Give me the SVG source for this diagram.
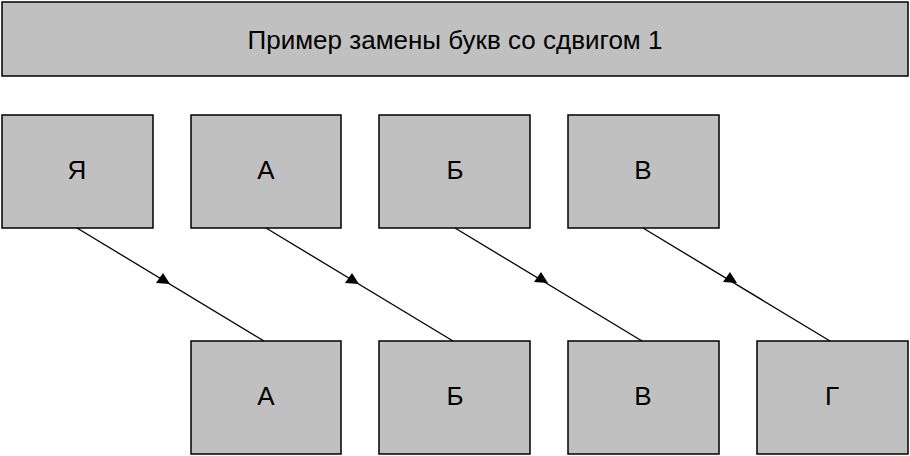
<svg xmlns="http://www.w3.org/2000/svg" width="910" height="456" viewBox="0 0 910 456">
<style>
.b{fill:#c0c0c0;stroke:#000;stroke-width:1.5}
text{font-family:"Liberation Sans",Arial,sans-serif;font-size:26px;fill:#000;text-anchor:middle;dominant-baseline:central}
.c line{stroke:#000;stroke-width:1.3}
</style>
<rect width="910" height="456" fill="#fff"/>
<g id="title"><rect class="b" x="2" y="2" width="906" height="74"/><text x="455" y="40">Пример замены букв со сдвигом 1</text></g>
<g id="t1"><rect class="b" x="2" y="115" width="151" height="113"/><text x="77" y="170">Я</text></g>
<g id="t2"><rect class="b" x="191" y="115" width="150" height="113"/><text x="266" y="170">А</text></g>
<g id="t3"><rect class="b" x="379" y="115" width="151" height="113"/><text x="455" y="170">Б</text></g>
<g id="t4"><rect class="b" x="568" y="115" width="151" height="113"/><text x="643" y="170">В</text></g>
<g id="b1"><rect class="b" x="191" y="341" width="150" height="113"/><text x="266" y="396">А</text></g>
<g id="b2"><rect class="b" x="379" y="341" width="151" height="113"/><text x="455" y="396">Б</text></g>
<g id="b3"><rect class="b" x="568" y="341" width="151" height="113"/><text x="643" y="396">В</text></g>
<g id="b4"><rect class="b" x="757" y="341" width="151" height="113"/><text x="832" y="396">Г</text></g>
<g class="c" id="connectors">
<line x1="77" y1="228" x2="264" y2="341"/><polygon points="163,273 156,283 170,284"/>
<line x1="266" y1="228" x2="453" y2="341"/><polygon points="352,273 345,283 359,284"/>
<line x1="455" y1="228" x2="642" y2="341"/><polygon points="541,272 534,282 548,283"/>
<line x1="643" y1="228" x2="830" y2="341"/><polygon points="730,272 723,282 737,283"/>
</g>
</svg>
